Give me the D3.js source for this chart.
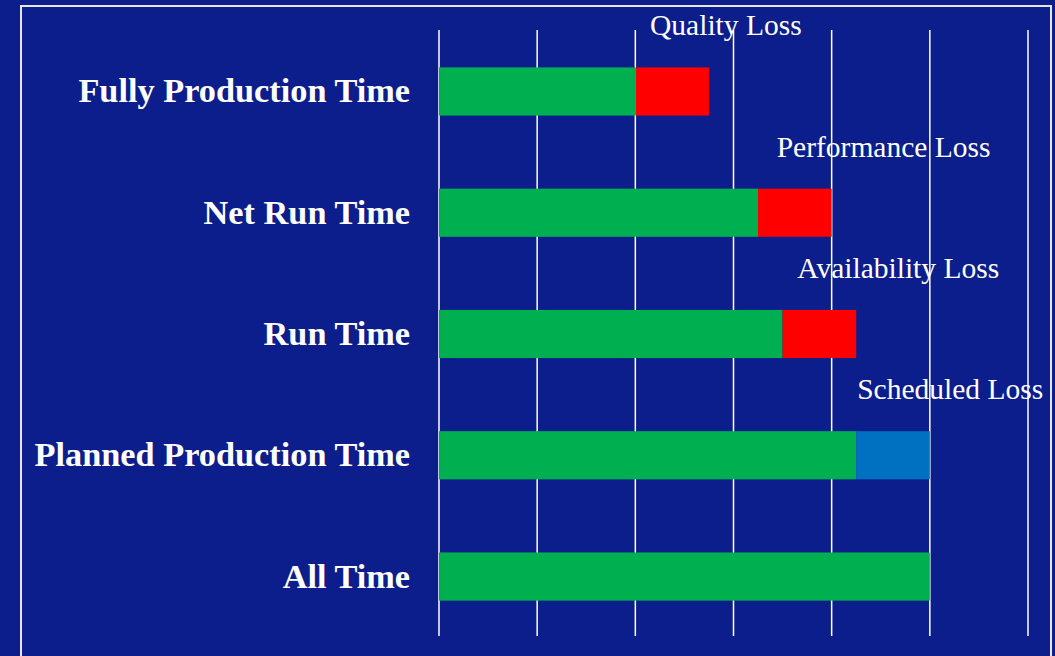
<!DOCTYPE html>
<html>
<head>
<meta charset="utf-8">
<script src="https://d3js.org/d3.v7.min.js"></script>
<style>
  body { margin: 0; background: #0c1e8c; }
  svg { display: block; }
</style>
</head>
<body>
<div id="chart"></div>
<script>
// OEE time breakdown
var categories = ["Fully Production Time", "Net Run Time", "Run Time", "Planned Production Time", "All Time"];
var productive = [2, 3.25, 3.5, 4.25, 5];
var losses = [0.75, 0.75, 0.75, 0.75, 0];
var lossNames = ["Quality Loss", "Performance Loss", "Availability Loss", "Scheduled Loss", ""];
var lossLabelAt = [2.15, 3.44, 3.65, 4.26, 0];   // where each loss caption starts (x units)
var lossColors = ["#ff0000", "#ff0000", "#ff0000", "#0070c0", "none"];
var gridTicks = [0, 1, 2, 3, 4, 5, 6];

const width = 1055, height = 656;
const plotLeft = 439, plotRight = 1028, plotTop = 31, plotBottom = 637;

var svg = d3.select("#chart").append("svg")
  .attr("width", width)
  .attr("height", height);

svg.append("rect")
  .attr("width", width).attr("height", height)
  .attr("fill", "#0c1e8c");

// frame
svg.append("rect")
  .attr("x", 21).attr("y", 6)
  .attr("width", 1030).attr("height", 700)
  .attr("fill", "none")
  .attr("stroke", "#e6e6ee")
  .attr("stroke-width", 2);

var xScale = d3.scaleLinear().domain([0, 6]).range([plotLeft, plotRight]);
var yScale = d3.scaleBand()
  .domain(categories)
  .range([plotTop, plotBottom])
  .paddingInner(0.603)
  .paddingOuter(0.3);

// loss captions (sit under the grid lines)
svg.append("g").selectAll("text")
  .data(categories.filter((d, i) => lossNames[i] !== ""))
  .enter().append("text")
    .attr("x", (d, i) => xScale(lossLabelAt[i]))
    .attr("y", d => yScale(d) - 32)
    .attr("fill", "#ffffff")
    .attr("font-family", "'Liberation Serif', 'Times New Roman', serif")
    .attr("font-size", 29.5)
    .text((d, i) => lossNames[i]);

// vertical grid
svg.append("g").selectAll("line")
  .data(gridTicks)
  .enter().append("line")
    .attr("x1", d => xScale(d)).attr("x2", d => xScale(d))
    .attr("y1", plotTop - 1).attr("y2", plotBottom - 1)
    .attr("stroke", "#ffffff")
    .attr("stroke-width", 1.5);

// productive part
svg.append("g").selectAll("rect")
  .data(categories)
  .enter().append("rect")
    .attr("x", xScale(0))
    .attr("y", d => yScale(d))
    .attr("width", (d, i) => xScale(productive[i]) - xScale(0))
    .attr("height", yScale.bandwidth())
    .attr("fill", "#00b050");

// loss part
svg.append("g").selectAll("rect")
  .data(categories)
  .enter().append("rect")
    .attr("x", (d, i) => xScale(productive[i]))
    .attr("y", d => yScale(d))
    .attr("width", (d, i) => xScale(productive[i] + losses[i]) - xScale(productive[i]))
    .attr("height", yScale.bandwidth())
    .attr("fill", (d, i) => lossColors[i]);

// category labels
svg.append("g").selectAll("text")
  .data(categories)
  .enter().append("text")
    .attr("x", xScale(0) - 29)
    .attr("y", d => yScale(d) + yScale.bandwidth() / 2)
    .attr("dy", "0.32em")
    .attr("text-anchor", "end")
    .attr("fill", "#ffffff")
    .attr("font-family", "'Liberation Serif', 'Times New Roman', serif")
    .attr("font-weight", "bold")
    .attr("font-size", 34.3)
    .text(d => d);
</script>
</body>
</html>
